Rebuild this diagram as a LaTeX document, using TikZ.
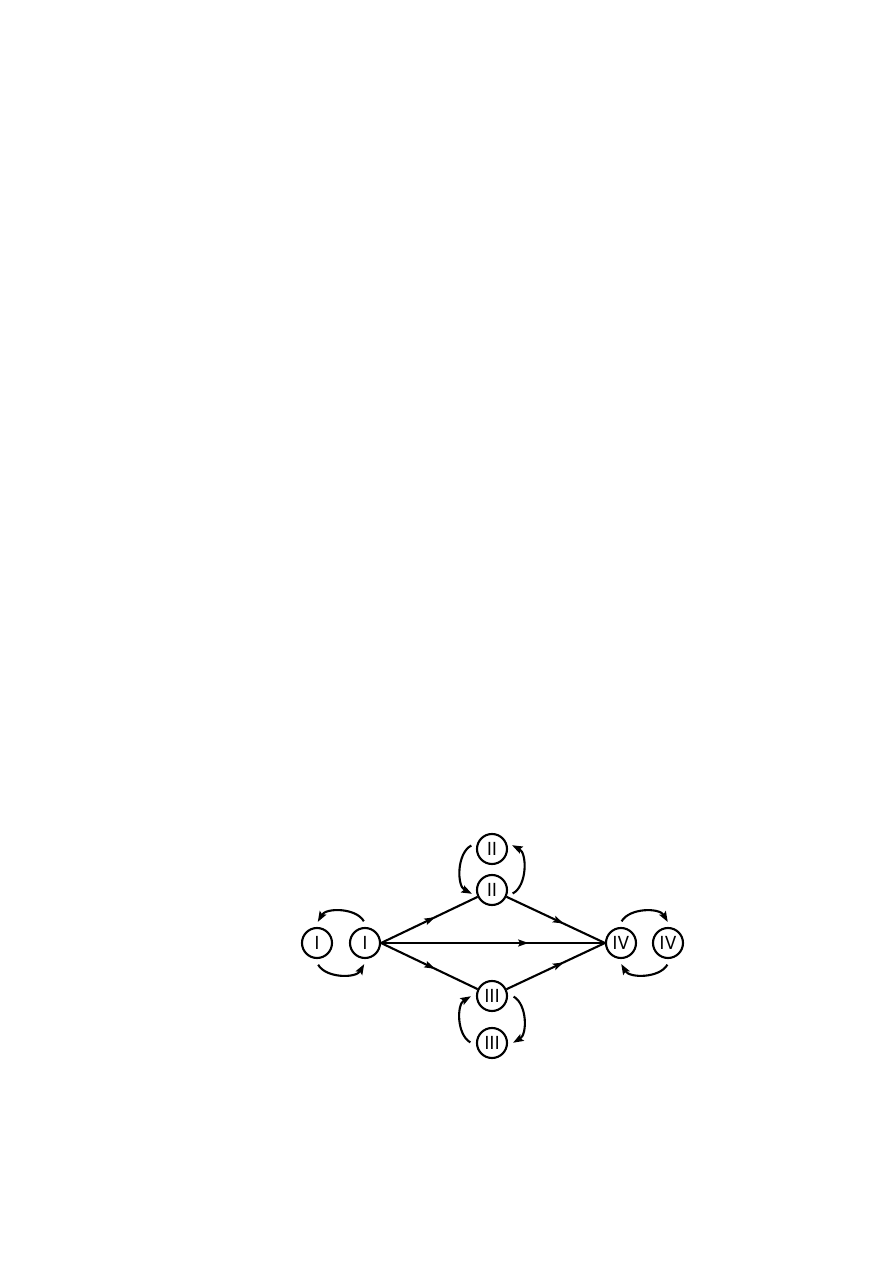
\documentclass[tikz,border=0pt]{standalone}
\usepackage{fontspec}
\setmainfont{TeX Gyre Heros}
\usetikzlibrary{arrows.meta}
\usetikzlibrary{decorations.markings}

\begin{document}
\begin{tikzpicture}[x=0.6667pt,y=0.6667pt,line width=1.4pt,
    phase/.style={shape=circle,draw,minimum size=20pt,inner sep=0pt,
      font=\fontsize{12}{14}\selectfont},
    flowline/.style={postaction={decorate},decoration={markings,
      mark=at position #1 with {\arrow{Stealth[length=7pt,width=4.5pt,inset=1.2pt]}}}},
    cyclearc/.style={-{Stealth[length=7pt,width=5pt,inset=1.2pt]},
      shorten <=4.5pt,shorten >=4pt,looseness=1.1}]

      \useasboundingbox (-492,-320) rectangle (401,943);

      \path node (I1) at (-175,0) [phase] {I};
      \path node (I2) at (-127,0) [phase] {I};

      \path node (II1) at (0,94) [phase] {II};
      \path node (II2) at (0,53) [phase] {II};

      \path node (III1) at (0,-53) [phase] {III};
      \path node (III2) at (0,-100) [phase] {III};

      \path node (IV1) at (129,0) [phase] {IV};
      \path node (IV2) at (176,0) [phase] {IV};

      \draw[flowline=0.56] (I2.east) -- (II2);
      \draw[flowline=0.58] (II2) -- (IV1.west);
      \draw[flowline=0.66] (I2.east) -- (IV1.west);
      \draw[flowline=0.56] (I2.east) -- (III1);
      \draw[flowline=0.58] (III1) -- (IV1.west);

      % exchange between the pairs
      \draw[cyclearc] (I2.82) to[out=120,in=60] (I1.98);
      \draw[cyclearc] (I1.262) to[out=300,in=240] (I2.278);

      \draw[cyclearc] (II1.156) to[out=207,in=153] (II2.204);
      \draw[cyclearc] (II2.336) to[out=27,in=333] (II1.24);

      \draw[cyclearc] (III2.190) to[out=150,in=210] (III1.170);
      \draw[cyclearc] (III1.10) to[out=330,in=30] (III2.350);

      \draw[cyclearc] (IV1.100) to[out=60,in=120] (IV2.80);
      \draw[cyclearc] (IV2.280) to[out=240,in=300] (IV1.260);
    \end{tikzpicture}
\end{document}
